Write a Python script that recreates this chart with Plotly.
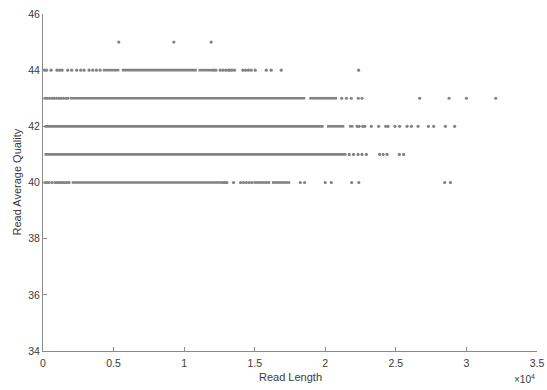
import plotly.graph_objects as go

# Read-quality levels (Phred average, integer bins)
levels = [40, 41, 42, 43, 44, 45]

# Dense stretches of reads at each quality level: (level, first length, last length)
dense_runs = [
    (40, 2035, 12695),
    (40, 14915, 16100),
    (40, 16220, 17517),
    (41, 100, 21500),
    (42, 100, 19880),
    (42, 20120, 21350),
    (42, 21680, 22000),
    (43, 1915, 18580),
    (43, 18865, 20830),
    (44, 4234, 5411),
    (44, 5581, 10900),
    (44, 11014, 12007),
]

# Individually visible reads: length values per quality level
sparse_40 = [142, 284, 425, 638, 851, 993, 1135, 1277, 1418, 1560, 1702, 1844,
             12745, 12890, 13029, 13500, 14000, 14205, 14400, 14600, 14800,
             18226, 18532, 20000, 20425, 21865, 22375, 28460, 28865]
sparse_41 = [21700, 22000, 22318, 22602, 22907, 23850, 24100, 24375, 25248, 25550]
sparse_42 = [22250, 22400, 22650, 22800, 23262, 23780, 24280, 24446, 24940,
             25268, 25794, 26098, 26574, 27304, 27680, 28510, 29170]
sparse_43 = [142, 284, 461, 638, 780, 957, 1135, 1277, 1454, 1631, 1773,
             21164, 21500, 21843, 22340, 22602, 26687, 28772, 30000, 32077]
sparse_44 = [100, 250, 570, 990, 1170, 1350, 1752, 2035, 2390, 2674, 2908, 3262,
             3525, 3780, 4042, 12078, 12248, 12553, 12750, 12950, 13142, 13213,
             13383, 13567, 14163, 14350, 14550, 14750, 15035, 15815, 16170,
             16879, 22361]
sparse_45 = [5369, 9269, 11915]

sparse_by_level = {40: sparse_40, 41: sparse_41, 42: sparse_42,
                   43: sparse_43, 44: sparse_44, 45: sparse_45}

x_ticks = [0, 5000, 10000, 15000, 20000, 25000, 30000, 35000]
x_tick_text = ["0", "0.5", "1", "1.5", "2", "2.5", "3", "3.5"]
y_ticks = [34, 36, 38, 40, 42, 44, 46]

dot_color = "#828282"
axis_color = "#8a8a8a"
text_color = "#3a3a3a"
font_family = "Liberation Sans, Arial, sans-serif"

fig = go.Figure()

# Dense stretches drawn as thick runs of overlapping dots
run_x, run_y = [], []
for lvl, x0, x1 in dense_runs:
    run_x += [x0, x1, None]
    run_y += [lvl, lvl, None]
fig.add_trace(go.Scatter(x=run_x, y=run_y, mode="lines",
                         line=dict(color=dot_color, width=2.6),
                         hoverinfo="skip", showlegend=False))

# Individual reads
px, py = [], []
for lvl in levels:
    for v in sparse_by_level[lvl]:
        px.append(v)
        py.append(lvl)
fig.add_trace(go.Scatter(x=px, y=py, mode="markers",
                         marker=dict(color=dot_color, size=3.2, line=dict(width=0)),
                         showlegend=False))

fig.update_layout(
    width=547, height=390,
    margin=dict(l=43, r=10, t=14, b=39),
    paper_bgcolor="white", plot_bgcolor="white",
    font=dict(family=font_family, size=10.5, color=text_color),
    xaxis=dict(range=[0, 35000], tickvals=x_ticks, ticktext=x_tick_text,
               showgrid=False, zeroline=False, showline=True,
               linecolor=axis_color, linewidth=1,
               ticks="inside", ticklen=4, tickcolor=axis_color,
               ticklabelstandoff=2, automargin=False),
    yaxis=dict(range=[34, 46], tickvals=y_ticks,
               showgrid=False, zeroline=False, showline=True,
               linecolor=axis_color, linewidth=1,
               ticks="inside", ticklen=4, tickcolor=axis_color,
               automargin=False),
    annotations=[
        dict(text="Read Length", xref="paper", yref="paper", x=0.5, y=0,
             yshift=-18, xanchor="center", yanchor="top", showarrow=False,
             font=dict(size=11, color=text_color)),
        dict(text="Read Average Quality", xref="paper", yref="paper", x=0, y=0.5,
             xshift=-19, xanchor="right", yanchor="middle", textangle=-90,
             showarrow=False, font=dict(size=11, color=text_color)),
        dict(text="\u00d710<sup>4</sup>", xref="paper", yref="paper", x=1, y=0,
             yshift=-20, xanchor="right", yanchor="top", showarrow=False,
             font=dict(size=10, color=text_color)),
    ],
)

fig.write_html("out.html")
